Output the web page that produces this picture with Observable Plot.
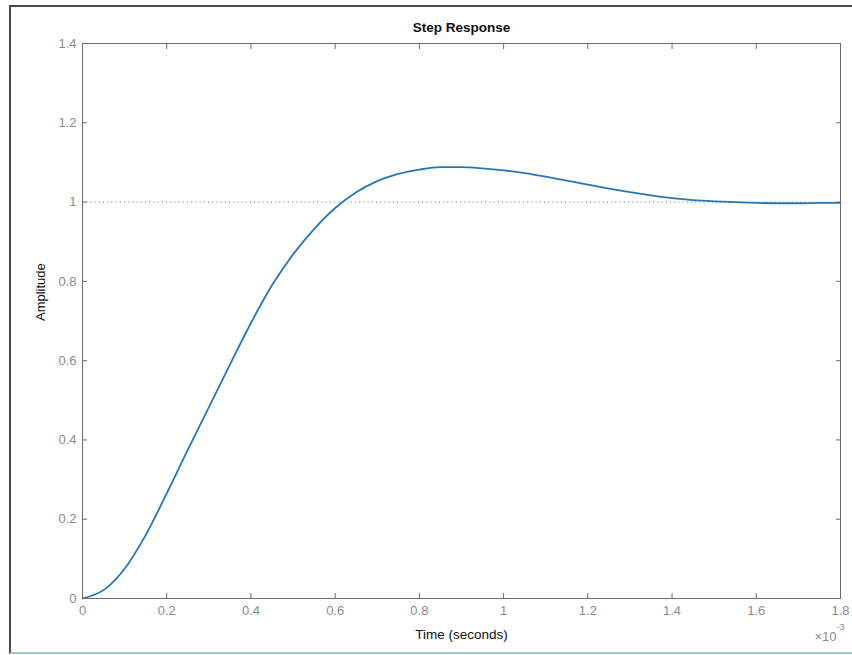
<!DOCTYPE html>
<html>
<head>
<meta charset="utf-8">
<script src="https://cdn.jsdelivr.net/npm/d3@7"></script>
<script src="https://cdn.jsdelivr.net/npm/@observablehq/plot@0.6"></script>
<style>
  html, body { margin: 0; padding: 0; background: #ffffff; }
  #wrap { position: relative; width: 852px; height: 655px; overflow: hidden; }
  #border { position: absolute; left: 9px; top: 5px; width: 850px; height: 645px;
            border-left: 2px solid #4a4a4a; border-top: 2px solid #4a4a4a; border-bottom: 2px solid #9fc9c9; }
  #chart { position: absolute; left: 0; top: 0; }
</style>
</head>
<body>
<div id="wrap"><div id="border"></div><div id="chart"></div></div>
<script>
// Time in units of 1e-3 seconds (axis shows ×10^-3)
const timeMs = [0, 0.055, 0.1, 0.15, 0.2, 0.25, 0.3, 0.35, 0.4, 0.45, 0.5, 0.55, 0.6, 0.65, 0.7, 0.75, 0.8, 0.85, 0.9, 0.95, 1.0, 1.05, 1.1, 1.15, 1.2, 1.25, 1.3, 1.35, 1.4, 1.45, 1.5, 1.55, 1.6, 1.65, 1.7, 1.75, 1.8];
const amplitude = [0, 0.025, 0.075, 0.16, 0.265, 0.375, 0.482, 0.59, 0.695, 0.79, 0.868, 0.932, 0.985, 1.025, 1.053, 1.071, 1.082, 1.088, 1.088, 1.085, 1.08, 1.073, 1.064, 1.054, 1.044, 1.034, 1.025, 1.017, 1.01, 1.005, 1.002, 1.0, 0.998, 0.997, 0.997, 0.998, 0.998];
const steadyState = [1];
const xTicks = [0, 0.2, 0.4, 0.6, 0.8, 1, 1.2, 1.4, 1.6, 1.8];
const yTicks = [0, 0.2, 0.4, 0.6, 0.8, 1, 1.2, 1.4];
const titleText = "Step Response";
const xLabel = "Time (seconds)";
const yLabel = "Amplitude";

const data = timeMs.map((t, i) => ({t, v: amplitude[i]}));
const fmt = d3.format("~g");
const font = "Liberation Sans, Arial, Helvetica, sans-serif";

const chart = Plot.plot({
  width: 852,
  height: 655,
  marginLeft: 82,
  marginTop: 43,
  marginRight: 12,
  marginBottom: 57,
  style: {fontFamily: font, background: "transparent", overflow: "visible"},
  x: {domain: [0, 1.8]},
  y: {domain: [0, 1.4]},
  marks: [
    Plot.ruleY(steadyState, {stroke: "#707070", strokeWidth: 1, strokeDasharray: "1,3.2"}),
    Plot.line(data, {x: "t", y: "v", stroke: "#2676b8", strokeWidth: 1.8, curve: "monotone-x"}),
    Plot.frame({stroke: "#6a6a6a", strokeWidth: 1}),
    Plot.axisX({anchor: "bottom", ticks: xTicks, tickSize: -5, tickPadding: 12, tickFormat: fmt,
      stroke: "#6a6a6a", fill: "#8a8a8a", fontSize: 13, label: null}),
    Plot.axisX({anchor: "top", ticks: xTicks, tickSize: -5, tickFormat: () => "", stroke: "#6a6a6a", label: null}),
    Plot.axisY({anchor: "left", ticks: yTicks, tickSize: -5, tickPadding: 11, tickFormat: fmt,
      stroke: "#6a6a6a", fill: "#8a8a8a", fontSize: 13, label: null}),
    Plot.axisY({anchor: "right", ticks: yTicks, tickSize: -5, tickFormat: () => "", stroke: "#6a6a6a", label: null}),
    Plot.text([titleText], {frameAnchor: "top", dy: -16, text: d => d, fontSize: 13.5, fill: "#111", fontWeight: "bold", lineAnchor: "middle"}),
    Plot.text([xLabel], {frameAnchor: "bottom", dy: 36, text: d => d, fontSize: 13.5, fill: "#111", lineAnchor: "middle"}),
    Plot.text([yLabel], {frameAnchor: "left", dx: -42, text: d => d, fontSize: 13, fill: "#111", rotate: -90, lineAnchor: "middle"}),
    Plot.text(["×10"], {frameAnchor: "bottom-right", dx: -4, dy: 38, text: d => d, fontSize: 13, fill: "#8a8a8a", textAnchor: "end", lineAnchor: "middle"}),
    Plot.text(["-3"], {frameAnchor: "bottom-right", dx: -4, dy: 29, text: d => d, fontSize: 9, fill: "#8a8a8a", textAnchor: "start", lineAnchor: "middle"})
  ]
});
document.getElementById("chart").appendChild(chart);
</script>
</body>
</html>
